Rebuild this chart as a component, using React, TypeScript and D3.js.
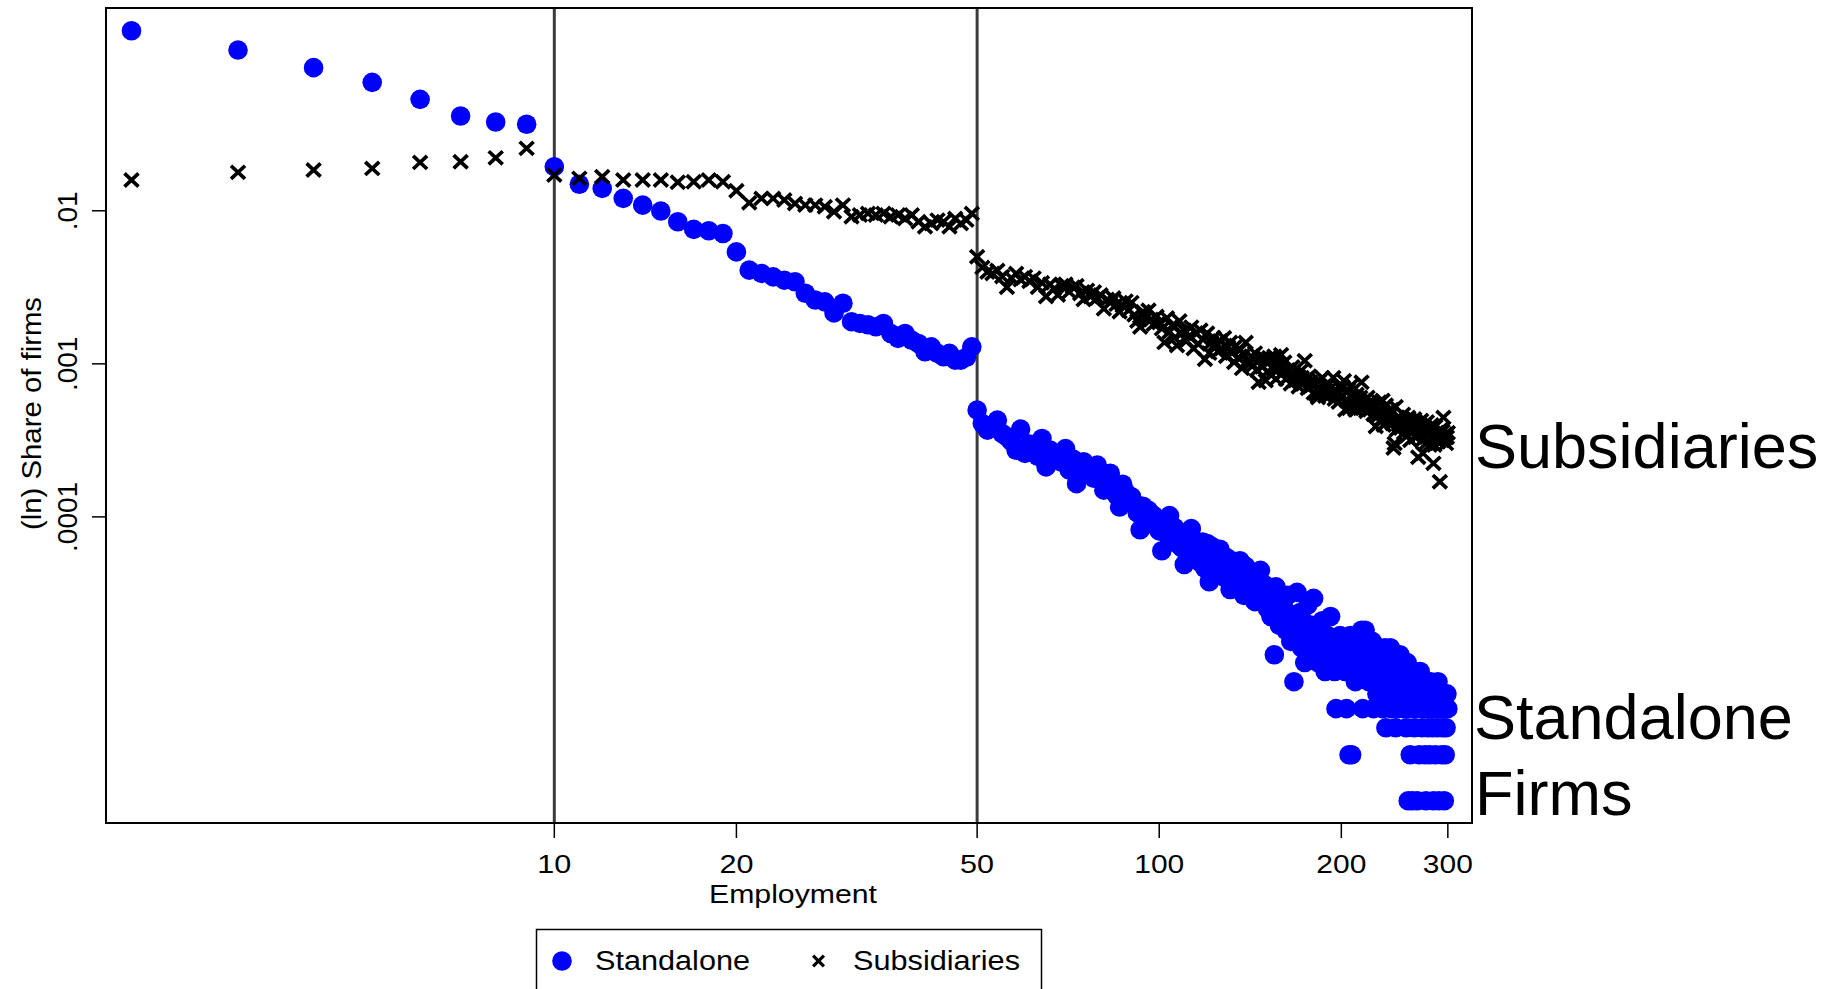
import React from 'react';
import * as d3 from 'd3';

const W = 1845;
const H = 989;

// ---------- axes ----------
const xTickValues = [10, 20, 50, 100, 200, 300];
const xTickLabels = ['10', '20', '50', '100', '200', '300'];
const yTickValues = [0.01, 0.001, 0.0001];
const yTickLabels = ['.01', '.001', '.0001'];
const thresholdLines = [10, 50];
const xAxisTitle = 'Employment';
const yAxisTitle = '(ln) Share of firms';
const legendLabels = ['Standalone', 'Subsidiaries'];

// ---------- data ----------
// employment sizes on the x axis (one point per firm size)
const employmentSmall = [2, 3, 4, 5, 6, 7, 8, 9];
const employmentMidStart = 10; // 10..49
const employmentLargeStart = 50; // 50..300

// Standalone firms: number of firms at each size (share = count / total)
const STANDALONE_FIRMS = 716000;
const standaloneCounts2to9 = [107400, 80350, 61660, 49430, 38280, 29790, 27230, 26300];
const standaloneCounts10to49 = [
  13900, 10670, 10020, 8630, 7800, 7130, 6070, 5410, 5300, 5090,
  3860, 2930, 2790, 2650, 2520, 2460, 2070, 1870, 1820, 1540,
  1780, 1350, 1315, 1290, 1250, 1315, 1130, 1050, 1130, 1020,
  973, 859, 925, 838, 796, 838, 757, 757, 790, 925,
];
const standaloneCounts50to300 = [
  357, 292, 264, 276, 307, 251, 239, 222, 195, 268,
  186, 214, 205, 178, 233, 152, 196, 172, 184, 163,
  200, 145, 171, 118, 156, 164, 139, 149, 128, 156,
  134, 107, 121, 138, 112, 99, 83, 117, 104, 92,
  97, 88, 76, 59, 84, 71, 79, 66, 73, 62,
  58, 43, 67, 55, 73, 52, 61, 48, 57, 45,
  35, 51, 44, 60, 39, 47, 42, 36, 49, 33,
  48, 27, 46, 38, 41, 31, 44, 35, 29, 39,
  33, 24, 37, 28, 31, 26, 37, 30, 22, 34,
  27, 23, 31, 25, 20, 28, 21, 32, 24, 26,
  24, 18, 21, 16, 19, 9, 25, 17, 14, 20,
  15, 18, 13, 22, 16, 11, 14, 6, 12, 23,
  13, 17, 10, 15, 8, 12, 19, 11, 9, 14,
  21, 10, 13, 8, 12, 9, 15, 11, 7, 10,
  12, 8, 16, 9, 11, 7, 4, 10, 8, 12,
  9, 11, 10, 7, 4, 9, 2, 12, 2, 7,
  9, 6, 11, 8, 10, 7, 13, 4, 9, 13,
  8, 10, 6, 9, 7, 11, 4, 8, 6, 5,
  7, 9, 5, 8, 4, 6, 10, 3, 7, 5,
  6, 10, 4, 8, 5, 7, 3, 9, 4, 6,
  9, 5, 5, 7, 4, 6, 3, 8, 1, 4,
  2, 6, 1, 5, 3, 7, 4, 1, 6, 2,
  7, 5, 3, 4, 6, 2, 1, 5, 3, 4,
  2, 6, 4, 3, 1, 5, 2, 4, 3, 6,
  1, 4, 5, 2, 3, 4, 1, 2, 3, 5,
  4,
];

// Subsidiaries: log10 of the share of firms at each size
const subsidiaryLog10Share2to9 = [-1.799, -1.749, -1.734, -1.723, -1.684, -1.68, -1.654, -1.592];
const subsidiaryLog10Share10to49 = [
  -1.767, -1.788, -1.778, -1.799, -1.799, -1.799, -1.814, -1.81, -1.799, -1.81,
  -1.869, -1.948, -1.919, -1.919, -1.93, -1.952, -1.963, -1.963, -1.974, -2.006,
  -1.963, -2.039, -2.028, -2.017, -2.028, -2.017, -2.039, -2.028, -2.05, -2.028,
  -2.072, -2.105, -2.083, -2.061, -2.072, -2.105, -2.05, -2.083, -2.061, -2.017,
];
const subsidiaryLog10Share50to300 = [
  -2.30, -2.37, -2.40, -2.41, -2.39, -2.43, -2.50, -2.44, -2.41, -2.45,
  -2.43, -2.46, -2.44, -2.50, -2.47, -2.56, -2.48, -2.51, -2.55, -2.49,
  -2.48, -2.53, -2.50, -2.49, -2.54, -2.58, -2.52, -2.56, -2.53, -2.57,
  -2.55, -2.64, -2.58, -2.60, -2.57, -2.61, -2.66, -2.62, -2.59, -2.65,
  -2.60, -2.68, -2.72, -2.76, -2.66, -2.70, -2.65, -2.71, -2.74, -2.69,
  -2.73, -2.77, -2.86, -2.70, -2.79, -2.75, -2.83, -2.88, -2.72, -2.80,
  -2.78, -2.85, -2.82, -2.76, -2.90, -2.80, -2.87, -2.78, -2.84, -2.97,
  -2.80, -2.93, -2.86, -2.83, -2.87, -2.92, -2.85, -2.90, -2.83, -2.95,
  -2.89, -2.86, -2.93, -2.99, -2.88, -2.96, -2.91, -3.03, -2.94, -2.86,
  -2.98, -3.00, -2.95, -3.01, -2.93, -3.04, -3.12, -2.97, -3.02, -2.96,
  -3.11, -3.05, -2.96, -3.07, -3.03, -2.95, -3.10, -3.04, -3.01, -2.94,
  -3.06, -2.99, -3.10, -3.04, -3.08, -3.13, -3.02, -3.07, -3.11, -3.08,
  -3.15, -3.05, -3.09, -3.13, -2.98, -3.10, -3.16, -3.08, -3.12, -3.14,
  -3.19, -3.13, -3.20, -3.22, -3.11, -3.17, -3.09, -3.15, -3.21, -3.18,
  -3.14, -3.21, -3.16, -3.19, -3.09, -3.23, -3.17, -3.20, -3.25, -3.15,
  -3.22, -3.15, -3.11, -3.30, -3.24, -3.17, -3.29, -3.21, -3.14, -3.27,
  -3.23, -3.30, -3.20, -3.28, -3.25, -3.22, -3.12, -3.29, -3.24, -3.27,
  -3.31, -3.22, -3.26, -3.30, -3.25, -3.27, -3.33, -3.29, -3.41, -3.34,
  -3.34, -3.25, -3.37, -3.30, -3.24, -3.40, -3.33, -3.27, -3.38, -3.31,
  -3.34, -3.37, -3.30, -3.39, -3.55, -3.52, -3.28, -3.43, -3.35, -3.40,
  -3.36, -3.42, -3.38, -3.33, -3.45, -3.40, -3.37, -3.47, -3.35, -3.43,
  -3.50, -3.39, -3.44, -3.41, -3.36, -3.48, -3.42, -3.46, -3.61, -3.46,
  -3.43, -3.37, -3.50, -3.585, -3.40, -3.45, -3.52, -3.38, -3.47, -3.42,
  -3.53, -3.44, -3.40, -3.49, -3.65, -3.53, -3.41, -3.48, -3.45, -3.51,
  -3.47, -3.77, -3.43, -3.50, -3.44, -3.35, -3.49, -3.46, -3.52, -3.48,
  -3.45,
];

// ---------- assemble ----------
type Pt = { e: number; share: number };

const standalone: Pt[] = [
  ...standaloneCounts2to9.map((c, i) => ({ e: employmentSmall[i], share: c / STANDALONE_FIRMS })),
  ...standaloneCounts10to49.map((c, i) => ({ e: employmentMidStart + i, share: c / STANDALONE_FIRMS })),
  ...standaloneCounts50to300.map((c, i) => ({ e: employmentLargeStart + i, share: c / STANDALONE_FIRMS })),
];
const subsidiaries: Pt[] = [
  ...subsidiaryLog10Share2to9.map((v, i) => ({ e: employmentSmall[i], share: Math.pow(10, v) })),
  ...subsidiaryLog10Share10to49.map((v, i) => ({ e: employmentMidStart + i, share: Math.pow(10, v) })),
  ...subsidiaryLog10Share50to300.map((v, i) => ({ e: employmentLargeStart + i, share: Math.pow(10, v) })),
];

// ---------- layout ----------
const plot = { left: 106, right: 1472, top: 8, bottom: 823 };
const x = d3.scaleLog().domain([1.815, 328.9]).range([plot.left, plot.right]);
const y = d3.scaleLog().domain([1e-6, 0.2113]).range([plot.bottom, plot.top]);

const BLUE = '#0000ff';
const FONT = '"Liberation Sans", Arial, Helvetica, sans-serif';
const DOT_R = 9.8;

function XMark({ cx, cy, s = 7, sy = 6.6, w = 3.7 }: { cx: number; cy: number; s?: number; sy?: number; w?: number }) {
  return (
    <path
      d={`M${cx - s},${cy - sy}L${cx + s},${cy + sy}M${cx - s},${cy + sy}L${cx + s},${cy - sy}`}
      stroke="#000"
      strokeWidth={w}
      fill="none"
    />
  );
}

export default function App() {
  return (
    <svg
      width={W}
      height={H}
      viewBox={`0 0 ${W} ${H}`}
      style={{ position: 'absolute', left: 0, top: 0, background: '#fff' }}
      fontFamily={FONT}
    >
      <rect x={0} y={0} width={W} height={H} fill="#fff" />

      {/* threshold lines */}
      {thresholdLines.map((v) => (
        <line key={v} x1={x(v)} x2={x(v)} y1={plot.top} y2={plot.bottom} stroke="#3c3c3c" strokeWidth={3} />
      ))}

      {/* standalone dots */}
      {standalone.map((d, i) => (
        <circle key={`s${i}`} cx={x(d.e)} cy={y(d.share)} r={DOT_R} fill={BLUE} />
      ))}

      {/* subsidiaries crosses */}
      {subsidiaries.map((d, i) => (
        <XMark key={`b${i}`} cx={x(d.e)} cy={y(d.share)} />
      ))}

      {/* frame */}
      <rect
        x={plot.left}
        y={plot.top}
        width={plot.right - plot.left}
        height={plot.bottom - plot.top}
        fill="none"
        stroke="#000"
        strokeWidth={2}
      />

      {/* x axis ticks */}
      {xTickValues.map((v, i) => (
        <g key={`xt${v}`}>
          <line x1={x(v)} x2={x(v)} y1={plot.bottom} y2={plot.bottom + 15} stroke="#000" strokeWidth={1.5} />
          <text
            x={x(v)}
            y={873}
            textAnchor="middle"
            fontSize={26}
            textLength={xTickLabels[i].length === 2 ? 34 : 50}
            lengthAdjust="spacingAndGlyphs"
          >
            {xTickLabels[i]}
          </text>
        </g>
      ))}
      <text x={793} y={903} textAnchor="middle" fontSize={26} textLength={168} lengthAdjust="spacingAndGlyphs">
        {xAxisTitle}
      </text>

      {/* y axis ticks */}
      {yTickValues.map((v, i) => (
        <g key={`yt${v}`}>
          <line x1={plot.left - 14} x2={plot.left} y1={y(v)} y2={y(v)} stroke="#000" strokeWidth={1.5} />
          <text
            transform={`translate(77,${y(v)}) rotate(-90)`}
            textAnchor="middle"
            fontSize={28}
          >
            {yTickLabels[i]}
          </text>
        </g>
      ))}
      <text
        transform={`translate(41,413.5) rotate(-90)`}
        textAnchor="middle"
        fontSize={28}
        textLength={233}
        lengthAdjust="spacingAndGlyphs"
      >
        {yAxisTitle}
      </text>

      {/* right side labels */}
      <text x={1475} y={468} fontSize={63}>Subsidiaries</text>
      <text x={1474} y={739} fontSize={63}>Standalone</text>
      <text x={1475} y={815} fontSize={63}>Firms</text>

      {/* legend */}
      <rect x={536.5} y={929.5} width={505} height={80} fill="#fff" stroke="#000" strokeWidth={1.5} />
      <circle cx={562} cy={961} r={DOT_R} fill={BLUE} />
      <text x={595} y={970} fontSize={27} textLength={155} lengthAdjust="spacingAndGlyphs">
        {legendLabels[0]}
      </text>
      <XMark cx={818.5} cy={961} s={5.4} sy={5.4} w={3.2} />
      <text x={853} y={970} fontSize={27} textLength={167} lengthAdjust="spacingAndGlyphs">
        {legendLabels[1]}
      </text>
    </svg>
  );
}
